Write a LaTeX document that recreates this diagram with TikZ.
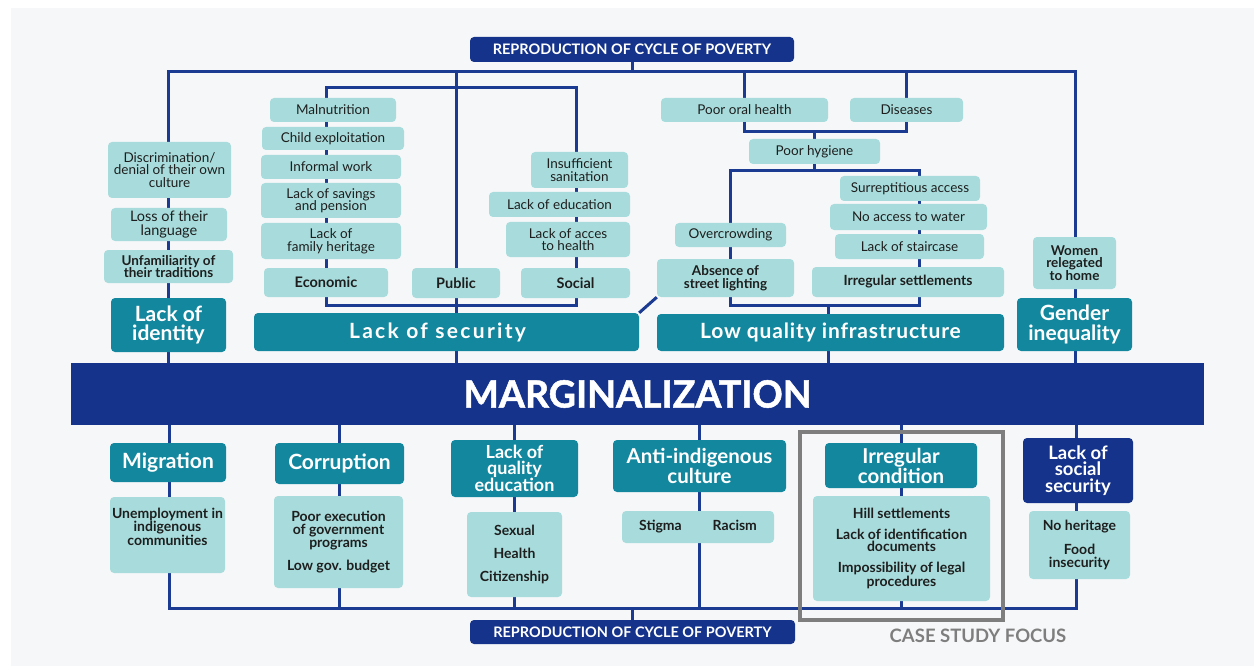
\documentclass[tikz,border=0pt]{standalone}
\usepackage{fontspec}
\setmainfont{Lato}
\newfontfamily\secfont[LetterSpace=11]{Lato}
\newfontfamily\infrafont[LetterSpace=4]{Lato}
\newfontfamily\heavyfont[BoldFeatures={FakeBold=1.3}]{Lato}
\usetikzlibrary{backgrounds}
\definecolor{navyc}{HTML}{15338A}
\definecolor{linec}{HTML}{1B3A92}
\definecolor{tealc}{HTML}{13879E}
\definecolor{lightc}{HTML}{A8DCDC}
\definecolor{txtc}{HTML}{1E1E1E}
\definecolor{bgc}{HTML}{F6F7F9}
\definecolor{grayc}{HTML}{7E7E7E}
\begin{document}
\begin{tikzpicture}[x=1pt,y=-1pt,
  box/.style={inner sep=0pt, rounded corners=4pt, align=center},
  lb/.style={box, fill=lightc, text=txtc, font=\fontsize{13.5}{12.6}\selectfont},
  lbb/.style={box, fill=lightc, text=txtc, font=\bfseries\fontsize{13.5}{12.6}\selectfont},
  lbc/.style={box, fill=lightc, text=txtc, font=\bfseries\fontsize{14}{12.8}\selectfont},
  tb/.style={box, fill=tealc, text=white, font=\bfseries\fontsize{21}{18.5}\selectfont},
  tbs/.style={box, fill=tealc, text=white, font=\bfseries\fontsize{18}{16.2}\selectfont},
  nb/.style={box, fill=navyc, text=white, font=\bfseries\fontsize{14.5}{14.5}\selectfont},
  conn/.style={line width=3pt, draw=linec}
]
\useasboundingbox (0,0) rectangle (1254,666);
\begin{scope}[on background layer]
  \fill[white] (0,0) rectangle (1254,666);
  \fill[bgc] (11,8) rectangle (1254,666);
\end{scope}

% ---------- top ----------
\node[nb, minimum width=324pt, minimum height=25pt] (topR) at (632,49.5) {REPRODUCTION OF CYCLE OF POVERTY};

\node[lb, minimum width=123pt, minimum height=56pt] (discr) at (169.5,170) {Discrimination/\\denial of their own\\culture};
\node[lb, font=\fontsize{14.5}{13.2}\selectfont, minimum width=116pt, minimum height=33pt] (loss) at (169,224.5) {Loss of their\\language};
\node[lbb, minimum width=129pt, minimum height=33pt] (unfam) at (168.5,266.5) {Unfamiliarity of\\their traditions};
\node[tb, minimum width=115pt, minimum height=54pt] (lid) at (168.5,325) {Lack of\\identity};

\node[lb, minimum width=126pt, minimum height=24pt] (maln) at (333,110) {Malnutrition};
\node[lb, minimum width=142pt, minimum height=23pt] (child) at (333,138.5) {Child exploitation};
\node[lb, minimum width=140pt, minimum height=24pt] (inf) at (331,167) {Informal work};
\node[lb, minimum width=140pt, minimum height=35pt] (sav) at (331,200.5) {Lack of savings\\and pension};
\node[lb, minimum width=140pt, minimum height=36pt] (fam) at (331,241) {Lack of\\family heritage};
\node[lbc, font=\bfseries\fontsize{14.5}{12}\selectfont, minimum width=124pt, minimum height=29pt] (econ) at (326,282.5) {Economic};
\node[lbc, font=\bfseries\fontsize{14.5}{12}\selectfont, minimum width=88pt, minimum height=30pt] (pub) at (456,283) {Public};
\node[lbc, font=\bfseries\fontsize{14.5}{12}\selectfont, minimum width=109pt, minimum height=30pt] (soc) at (575.5,283) {Social};
\node[lb, minimum width=97pt, minimum height=36pt] (sanit) at (579.5,170) {Insufficient\\sanitation};
\node[lb, minimum width=141pt, minimum height=25pt] (edu) at (559.5,204.5) {Lack of education};
\node[lb, minimum width=124pt, minimum height=35pt] (hlth) at (568,239.5) {Lack of acces\\to health};
\node[tb, font=\secfont\bfseries\fontsize{21}{17}\selectfont, minimum width=385pt, minimum height=38pt] (lsec) at (446.5,332) {Lack of security\hspace*{18pt}};

\node[lb, minimum width=167pt, minimum height=24pt] (oral) at (744.5,110) {Poor oral health};
\node[lb, minimum width=113pt, minimum height=24pt] (dis) at (906.5,110) {Diseases};
\node[lb, minimum width=131pt, minimum height=25pt] (hyg) at (814.5,151.5) {Poor hygiene};
\node[lb, minimum width=140pt, minimum height=25pt] (surr) at (910,188.5) {Surreptitious access};
\node[lb, minimum width=157pt, minimum height=26pt] (water) at (908.5,217) {No access to water};
\node[lb, minimum width=149pt, minimum height=25pt] (stair) at (909.5,246.5) {Lack of staircase};
\node[lbc, minimum width=192pt, minimum height=30pt] (irrs) at (908,282) {Irregular settlements};
\node[lb, minimum width=111pt, minimum height=24pt] (over) at (730.5,235) {Overcrowding};
\node[lbb, minimum width=137pt, minimum height=38pt] (abs) at (725.5,278) {Absence of\\street lighting};
\node[tb, font=\infrafont\bfseries\fontsize{21}{17}\selectfont, minimum width=347pt, minimum height=37pt] (lqi) at (830.5,332.5) {Low quality infrastructure};
\node[lbb, minimum width=83pt, minimum height=52pt] (women) at (1074.5,263) {Women\\relegated\\to home};
\node[tb, font=\bfseries\fontsize{21}{19.8}\selectfont, minimum width=115pt, minimum height=53pt] (gen) at (1074.5,324.5) {Gender\\inequality};

% ---------- bar ----------
\node[fill=navyc, text=white, inner sep=0pt, minimum width=1133pt, minimum height=62pt, font=\heavyfont\bfseries\fontsize{37.5}{37.5}\selectfont] (bar) at (637.5,394) {MARGINALIZATION};

% ---------- bottom ----------
\node[tb, minimum width=116pt, minimum height=39pt] (mig) at (168,462.5) {Migration};
\node[lbc, minimum width=115pt, minimum height=76pt] (unemp) at (167.5,535) {Unemployment in\\indigenous\\communities\\[4pt]};
\node[tb, minimum width=129pt, minimum height=41pt] (cor) at (339.5,463.5) {Corruption};
\node[lbc, minimum width=129pt, minimum height=92pt] (poor) at (338.5,542) {Poor execution\\of government\\programs\\[9pt]Low gov. budget};
\node[tbs, minimum width=127pt, minimum height=57pt] (lqe) at (514.5,468.5) {Lack of\\quality\\education};
\node[lbc, minimum width=95pt, minimum height=85pt] (shc) at (514.5,554.5) {Sexual\\[10.5pt]Health\\[10.5pt]Citizenship};
\node[tb, font=\bfseries\fontsize{20.5}{18}\selectfont, minimum width=173pt, minimum height=52pt] (anti) at (699.5,466) {Anti-indigenous\\culture};
\node[lbc, minimum width=152pt, minimum height=32pt] (stig) at (698,527) {Stigma\hspace{31pt}Racism};
\node[tb, font=\bfseries\fontsize{20.5}{18}\selectfont, minimum width=152pt, minimum height=45pt] (irc) at (901,465.5) {Irregular\\condition};
\node[lbc, font=\bfseries\fontsize{14}{12.6}\selectfont, minimum width=177pt, minimum height=105pt] (hill) at (901.5,548.5) {Hill settlements\\[8pt]Lack of identification\\documents\\[8pt]Impossibility of legal\\procedures};
\node[nb, font=\bfseries\fontsize{18.5}{16.2}\selectfont, minimum width=110pt, minimum height=65pt] (lss) at (1078,470.5) {Lack of\\social\\security};
\node[lbc, minimum width=101pt, minimum height=68pt] (food) at (1079.5,545) {No heritage\\[10pt]Food\\insecurity};
\node[nb, minimum width=325pt, minimum height=24pt] (botR) at (632.5,632) {REPRODUCTION OF CYCLE OF POVERTY};

\node[draw=grayc, line width=4pt, inner sep=0pt, minimum width=203pt, minimum height=188pt] (focus) at (901.5,526) {};
\node[text=grayc, font=\bfseries\fontsize{18.5}{18.5}\selectfont, inner sep=0pt] (cs) at (978,636) {CASE STUDY FOCUS};

% ---------- connectors ----------
\coordinate (tl) at (168,72);
\coordinate (tr) at (1075,72);
\coordinate (ibl) at (326,88);
\coordinate (obr) at (576,305);
\coordinate (hyb) at (814.5,132);
\coordinate (rbl) at (730,171);
\coordinate (rbr) at (919,305);
\coordinate (rbc) at (828,305);
\coordinate (bl) at (169,608);
\coordinate (br) at (1076,608);

\begin{scope}[on background layer]
  \draw[conn] (topR.south) -- (topR.south |- tl);
  \draw[conn] (tl |- bar.north) -- (tl) -- (tr) -- (tr |- bar.north);
  \draw[conn] (pub.north |- tl) -- (pub.north |- bar.north);
  \draw[conn] (ibl) rectangle (obr);
  \draw[conn] (oral.north |- tl) -- (oral.north);
  \draw[conn] (dis.north |- tl) -- (dis.north);
  \draw[conn] (oral.south) -- (oral.south |- hyb) -- (dis.south |- hyb) -- (dis.south);
  \draw[conn] (hyb) -- (hyg.north);
  \draw[conn] (hyg.south) -- (hyg.south |- rbl);
  \draw[conn] (rbl) rectangle (rbr);
  \draw[conn] (rbc) -- (rbc |- bar.north);
  \draw[conn] (lsec.north east) -- (abs.south west);
  \draw[conn] (bl |- bar.south) -- (bl) -- (br) -- (br |- bar.south);
  \draw[conn] (cor.north |- bar.south) -- (cor.north |- bl);
  \draw[conn] (lqe.north |- bar.south) -- (lqe.north |- bl);
  \draw[conn] (anti.north |- bar.south) -- (anti.north |- bl);
  \draw[conn] (irc.north |- bar.south) -- (irc.north |- bl);
  \draw[conn] (botR.north) -- (botR.north |- bl);
\end{scope}
\end{tikzpicture}
\end{document}
